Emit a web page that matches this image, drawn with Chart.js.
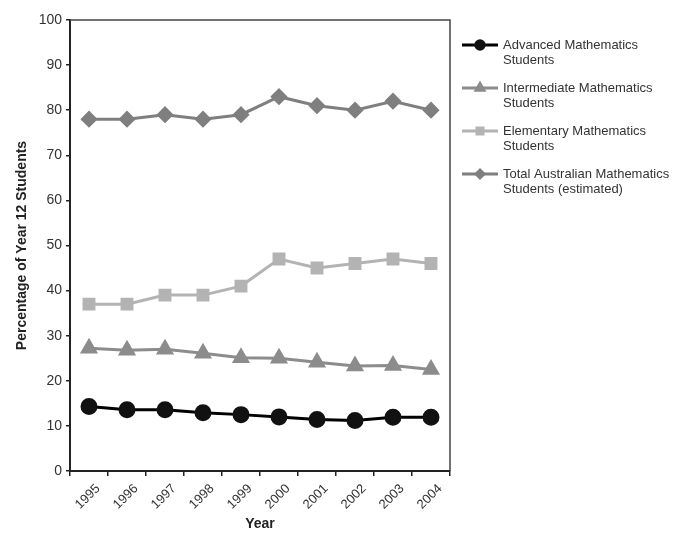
<!DOCTYPE html>
<html>
<head>
<meta charset="utf-8">
<script src="https://cdn.jsdelivr.net/npm/chart.js@4.4.1/dist/chart.umd.min.js"></script>
<style>
  html, body { margin: 0; padding: 0; background: #fff; }
  #wrap { width: 687px; height: 533px; position: relative; }
</style>
</head>
<body>
<div id="wrap"><canvas id="chart"></canvas></div>
<script>
const years = ['1995', '1996', '1997', '1998', '1999', '2000', '2001', '2002', '2003', '2004']
const advanced = [14.3, 13.6, 13.6, 12.9, 12.5, 12.0, 11.4, 11.2, 11.9, 11.9]
const intermediate = [27.2, 26.8, 27.0, 26.1, 25.1, 25.0, 24.1, 23.3, 23.4, 22.5]
const elementary = [37, 37, 39, 39, 41, 47, 45, 46, 47, 46]
const total = [78, 78, 79, 78, 79, 83, 81, 80, 82, 80]

const seriesNames = [
	['Advanced Mathematics', 'Students'],
	['Intermediate Mathematics', 'Students'],
	['Elementary Mathematics', 'Students'],
	['Total Australian Mathematics', 'Students (estimated)'],
]

const FONT = '"Liberation Sans", Arial, sans-serif'

// box round the plot (top and right sides)
const boxPlugin = {
	id: 'box',
	beforeDatasetsDraw(chart) {
		const { ctx, chartArea: a } = chart
		ctx.save()
		ctx.strokeStyle = '#444'
		ctx.lineWidth = 1.5
		ctx.beginPath()
		ctx.moveTo(a.left, a.top)
		ctx.lineTo(a.right, a.top)
		ctx.lineTo(a.right, a.bottom)
		ctx.stroke()
		ctx.restore()
	},
}

// legend on the right: line sample with marker, two-line text
const sideLegend = {
	id: 'sideLegend',
	afterDraw(chart) {
		const { ctx } = chart
		const x0 = chart.chartArea.right + 12
		let y = 45
		chart.data.datasets.forEach((ds, i) => {
			ctx.save()
			ctx.strokeStyle = ds.borderColor
			ctx.lineWidth = ds.borderWidth
			ctx.beginPath()
			ctx.moveTo(x0, y)
			ctx.lineTo(x0 + 36, y)
			ctx.stroke()
			ctx.fillStyle = ds.pointBackgroundColor
			ctx.strokeStyle = ds.pointBackgroundColor
			Chart.helpers.drawPoint(ctx, {
				pointStyle: ds.pointStyle,
				radius: ds.pointRadius * 0.6,
				rotation: 0,
				borderWidth: 1,
			}, x0 + 18, y)
			ctx.restore()

			ctx.save()
			ctx.fillStyle = '#333'
			ctx.font = '13px ' + FONT
			ctx.textBaseline = 'middle'
			seriesNames[i].forEach((line, k) => {
				ctx.fillText(line, x0 + 41, y + k * 15)
			})
			ctx.restore()
			y += 43
		})
	},
}

new Chart(document.getElementById('chart'), {
	type: 'line',
	data: {
		labels: years,
		datasets: [
			{
				label: seriesNames[0].join(' '),
				data: advanced,
				borderColor: '#000',
				backgroundColor: '#111',
				pointBackgroundColor: '#111',
				pointBorderColor: '#111',
				borderWidth: 3,
				pointStyle: 'circle',
				pointRadius: 7,
			},
			{
				label: seriesNames[1].join(' '),
				data: intermediate,
				borderColor: '#8c8c8c',
				backgroundColor: '#8c8c8c',
				pointBackgroundColor: '#8c8c8c',
				pointBorderColor: '#8c8c8c',
				borderWidth: 3,
				pointStyle: 'triangle',
				pointRadius: 7.5,
			},
			{
				label: seriesNames[2].join(' '),
				data: elementary,
				borderColor: '#b3b3b3',
				backgroundColor: '#b3b3b3',
				pointBackgroundColor: '#b3b3b3',
				pointBorderColor: '#b3b3b3',
				borderWidth: 3,
				pointStyle: 'rect',
				pointRadius: 7,
			},
			{
				label: seriesNames[3].join(' '),
				data: total,
				borderColor: '#7f7f7f',
				backgroundColor: '#7f7f7f',
				pointBackgroundColor: '#7f7f7f',
				pointBorderColor: '#7f7f7f',
				borderWidth: 3,
				pointStyle: 'rectRot',
				pointRadius: 6.5,
			},
		],
	},
	options: {
		responsive: true,
		maintainAspectRatio: false,
		animation: false,
		layout: { padding: { top: 20, right: 237, left: 14, bottom: 0 } },
		plugins: {
			legend: { display: false },
			tooltip: { enabled: false },
		},
		scales: {
			x: {
				offset: true,
				grid: {
					offset: true,
					drawOnChartArea: false,
					drawTicks: true,
					tickLength: 5,
					color: '#222',
					lineWidth: 1.5,
				},
				border: { color: '#222', width: 2 },
				ticks: {
					color: '#333',
					font: { family: FONT, size: 13 },
					maxRotation: 45,
					minRotation: 45,
					padding: 5,
					labelOffset: 9,
				},
				title: {
					display: true,
					text: 'Year',
					color: '#222',
					font: { family: FONT, size: 14, weight: 'bold' },
					padding: { top: 2, bottom: 0 },
				},
				afterFit(scale) { scale.height = 62 },
			},
			y: {
				min: 0,
				max: 100,
				ticks: {
					stepSize: 10,
					color: '#333',
					font: { family: FONT, size: 14 },
					padding: 4,
				},
				grid: {
					drawOnChartArea: false,
					drawTicks: true,
					tickLength: 4,
					color: '#222',
					lineWidth: 1.5,
				},
				border: { color: '#222', width: 2 },
				title: {
					display: true,
					text: 'Percentage of Year 12 Students',
					color: '#222',
					font: { family: FONT, size: 14, weight: 'bold' },
					padding: { top: 0, bottom: 6 },
				},
				afterFit(scale) { scale.width = 56 },
			},
		},
	},
	plugins: [boxPlugin, sideLegend],
})
</script>
</body>
</html>
